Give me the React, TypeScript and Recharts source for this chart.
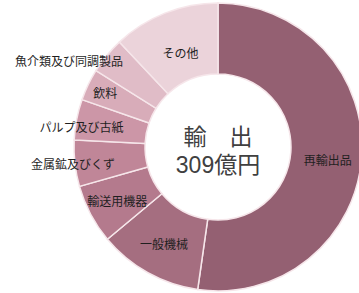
import React from "react";
import { PieChart, Pie, Cell } from "recharts";

const categories = [
  "再輸出品",
  "一般機械",
  "輸送用機器",
  "金属鉱及びくず",
  "パルプ及び古紙",
  "飲料",
  "魚介類及び同調製品",
  "その他",
];
const values = [161, 36, 20.5, 16, 14, 11, 12.6, 37];
const colors = [
  "#946072",
  "#a56e80",
  "#b47a8d",
  "#c08698",
  "#cc96a7",
  "#d8acb9",
  "#e0bcc7",
  "#ebd3da",
];
const centerTitle = "輸　出";
const centerValue = "309億円";

const data = categories.map((name, i) => ({ name, value: values[i] }));

const labelRadius = [110, 111, 114, 146, 142, 125, 172, 102];
const labelDx = [0, 0, 0, 0, 3, 0, -16, 0];
const labelDy = [5, 0, 0, 0, 7, 0, 23, 0];

const RAD = Math.PI / 180;
const font = "'Noto Sans CJK JP', 'Noto Sans', sans-serif";
const centerFont = "'Liberation Sans', 'Noto Sans CJK JP', sans-serif";

const renderLabel = (props: any) => {
  const { cx, cy, midAngle, index } = props;
  const r = labelRadius[index];
  const x = cx + r * Math.cos(-midAngle * RAD) + labelDx[index];
  const y = cy + r * Math.sin(-midAngle * RAD) + labelDy[index];
  return (
    <text
      x={x}
      y={y}
      textAnchor="middle"
      dominantBaseline="central"
      fontSize={12}
      fontFamily={font}
      fill="#1f1f1f"
    >
      {categories[index]}
    </text>
  );
};

const centerStyle: React.CSSProperties = {
  position: "absolute",
  left: 218 - 70,
  width: 140,
  height: 24,
  textAlign: "center",
  fontFamily: centerFont,
  color: "#404040",
  fontSize: 23,
  lineHeight: "24px",
  pointerEvents: "none",
  whiteSpace: "nowrap",
};

export default function App() {
  return (
    <div
      style={{
        position: "absolute",
        left: 0,
        top: 0,
        width: 359,
        height: 293,
        background: "#ffffff",
        overflow: "hidden",
      }}
    >
      <PieChart width={359} height={293} margin={{ top: 0, right: 0, bottom: 0, left: 0 }}>
        <Pie
          data={data}
          dataKey="value"
          nameKey="name"
          cx={218}
          cy={147}
          innerRadius={73}
          outerRadius={144}
          startAngle={90}
          endAngle={-270}
          stroke="#f6e6ea"
          strokeWidth={1.5}
          label={renderLabel}
          labelLine={false}
          isAnimationActive={false}
        >
          {data.map((d, i) => (
            <Cell key={d.name} fill={colors[i]} />
          ))}
        </Pie>
      </PieChart>
      <div style={{ ...centerStyle, top: 125 }}>{centerTitle}</div>
      <div style={{ ...centerStyle, top: 153 }}>{centerValue}</div>
    </div>
  );
}
